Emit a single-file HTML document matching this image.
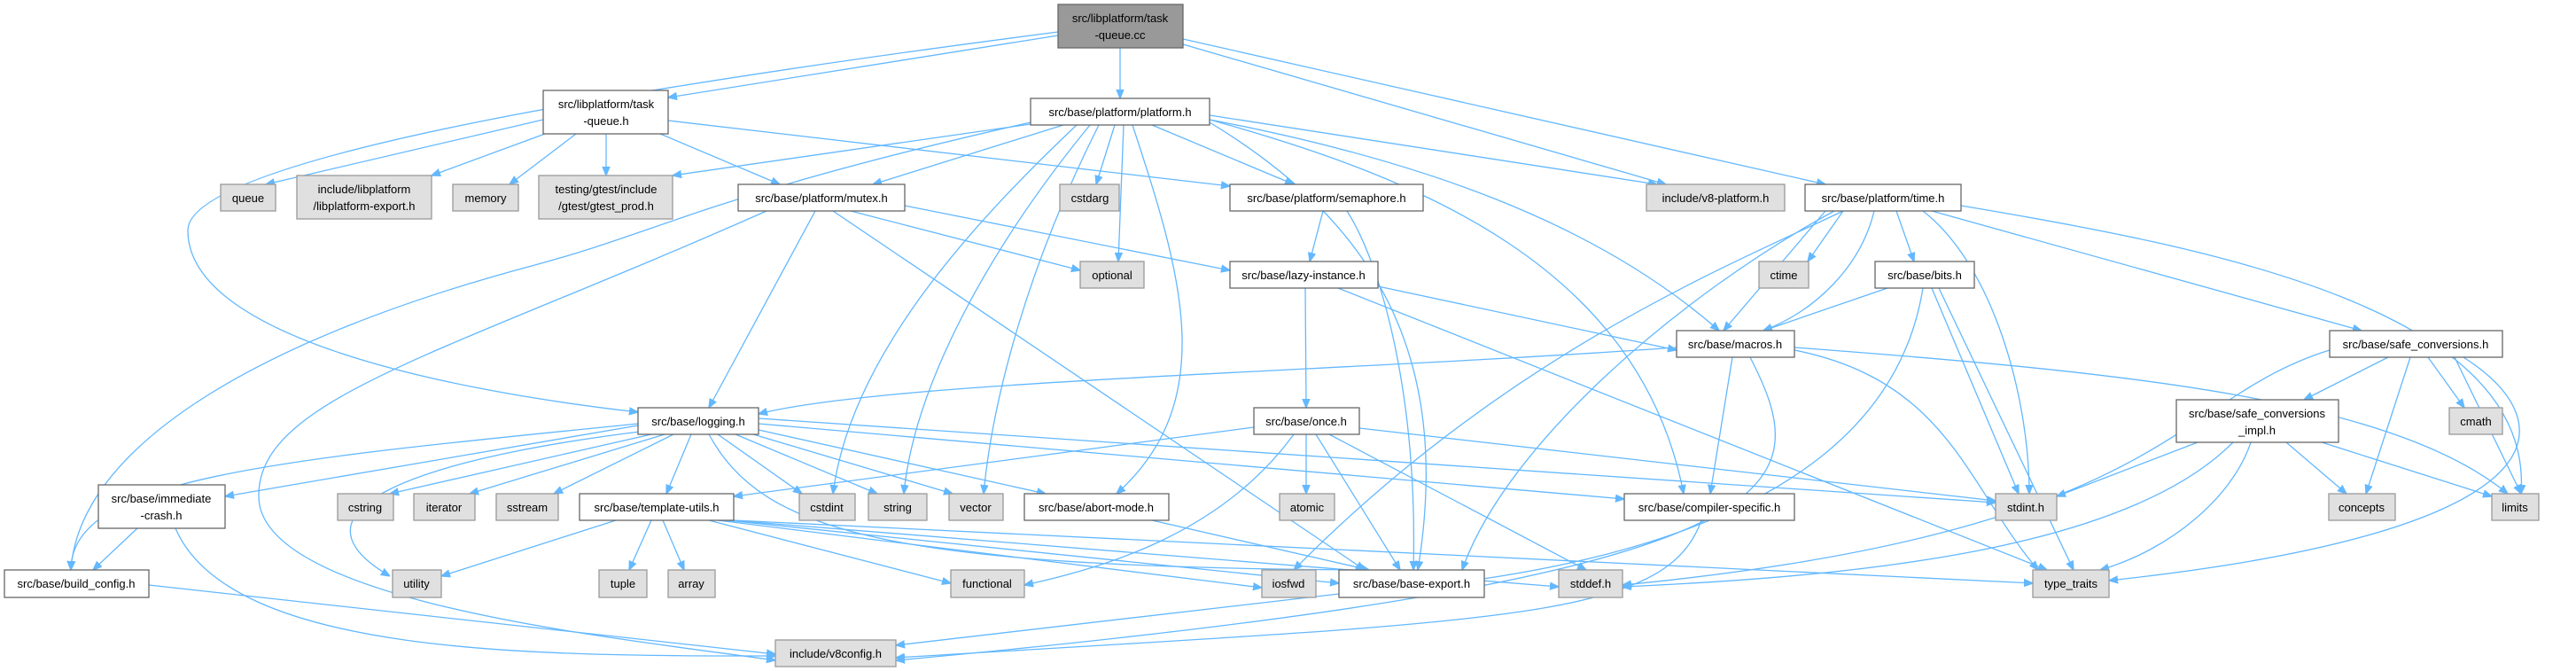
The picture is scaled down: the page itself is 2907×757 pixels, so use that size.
<!DOCTYPE html>
<html><head><meta charset="utf-8"><style>
html,body{margin:0;padding:0;background:#fff}
svg{display:block}
text{font-family:"Liberation Sans",sans-serif;font-size:13px;fill:#000}
.w{fill:#fff;stroke:#666;stroke-width:1.3}
.g{fill:#e0e0e0;stroke:#999;stroke-width:1.3}
.d{fill:#999;stroke:#666;stroke-width:1.3}
path{fill:none;stroke:#63b8ff;stroke-width:1.3}
</style></head><body>
<svg width="2907" height="757" viewBox="0 0 2907 757" xmlns="http://www.w3.org/2000/svg">
<defs><marker id="a" viewBox="0 0 10 10" refX="10" refY="5" markerWidth="10" markerHeight="10" markerUnits="userSpaceOnUse" orient="auto"><path d="M0,1 L10,5 L0,9 z" style="fill:#63b8ff;stroke:#63b8ff"/></marker></defs>
<g marker-end="url(#a)">
<path d="M1194,40 L754,110"/>
<path d="M1264,54 L1264,111"/>
<path d="M1335,50 L1880,208"/>
<path d="M1335,44 L2060,208"/>
<path d="M1194,36 C700,100 212,180 212,260 C212,380 500,440 720,465"/>
<path d="M613,135 L300,208"/>
<path d="M615,151 L487,198"/>
<path d="M650,151 L575,208"/>
<path d="M684,151 L684,198"/>
<path d="M745,151 L880,208"/>
<path d="M754,136 L1388,210"/>
<path d="M1163,140 L759,198"/>
<path d="M1200,141 L985,208"/>
<path d="M1300,141 L1460,208"/>
<path d="M1258,141 L1237,208"/>
<path d="M1268,141 L1262,295"/>
<path d="M1365,130 L1870,208"/>
<path d="M1365,135 C1600,180 1800,250 1940,373"/>
<path d="M1365,135 C1600,200 1850,300 1900,557"/>
<path d="M1365,138 C1550,250 1640,400 1600,643"/>
<path d="M1278,141 C1330,300 1380,450 1260,557"/>
<path d="M1215,141 C1100,250 960,400 940,557"/>
<path d="M1230,141 C1100,300 1030,450 1020,557"/>
<path d="M1240,141 C1160,300 1120,450 1110,557"/>
<path d="M1163,138 C800,220 750,260 600,300 C300,380 90,500 80,643"/>
<path d="M865,238 C500,400 290,450 292,560 C292,680 700,720 875,745"/>
<path d="M920,238 L800,460"/>
<path d="M960,238 L1219,305"/>
<path d="M1021,232 L1388,305"/>
<path d="M940,238 L1540,643"/>
<path d="M1493,238 L1478,295"/>
<path d="M1520,238 C1560,300 1600,450 1595,643"/>
<path d="M1473,325 L1474,460"/>
<path d="M1555,323 L1892,395"/>
<path d="M1510,325 L2310,643"/>
<path d="M2080,238 L2040,295"/>
<path d="M2140,238 L2160,295"/>
<path d="M2115,238 C2100,300 2050,350 1990,373"/>
<path d="M2060,238 L1945,373"/>
<path d="M2170,238 C2250,300 2290,450 2290,557"/>
<path d="M2180,238 L2665,373"/>
<path d="M2213,232 C2500,280 2860,350 2845,557"/>
<path d="M2070,238 C1900,330 1700,500 1650,643"/>
<path d="M2080,238 C1950,300 1700,400 1460,643"/>
<path d="M2130,325 L1990,373"/>
<path d="M2180,325 L2278,557"/>
<path d="M2188,325 L2340,643"/>
<path d="M2170,325 C2150,450 2050,600 1660,655"/>
<path d="M1892,392 C1500,420 1000,430 856,467"/>
<path d="M1955,403 L1930,557"/>
<path d="M1975,403 C2050,550 2050,650 1011,745"/>
<path d="M2025,395 C2200,430 2220,550 2300,643"/>
<path d="M2025,392 C2400,420 2700,450 2830,557"/>
<path d="M2695,403 L2600,451"/>
<path d="M2740,403 L2781,460"/>
<path d="M2720,403 L2670,557"/>
<path d="M2770,403 L2845,557"/>
<path d="M2780,403 C2900,480 2890,600 2380,655"/>
<path d="M2629,395 C2450,450 2450,600 1831,660"/>
<path d="M2480,499 L2321,560"/>
<path d="M2580,499 L2648,557"/>
<path d="M2620,499 L2812,560"/>
<path d="M2540,499 C2520,560 2450,620 2370,643"/>
<path d="M2520,499 C2400,620 2100,650 1831,662"/>
<path d="M720,480 L254,560"/>
<path d="M720,478 C300,520 80,540 80,643"/>
<path d="M735,490 L440,557"/>
<path d="M750,490 L530,557"/>
<path d="M760,490 L625,557"/>
<path d="M780,490 L752,557"/>
<path d="M810,490 L905,557"/>
<path d="M830,490 L990,557"/>
<path d="M850,490 L1075,557"/>
<path d="M856,485 L1180,557"/>
<path d="M856,478 L1833,563"/>
<path d="M730,486 C450,520 320,580 440,650"/>
<path d="M800,490 C860,600 1000,640 1540,643"/>
<path d="M856,472 L2252,567"/>
<path d="M1415,482 L828,560"/>
<path d="M1474,490 L1474,557"/>
<path d="M1460,490 C1380,600 1250,640 1156,660"/>
<path d="M1485,490 L1580,643"/>
<path d="M1500,490 L1790,643"/>
<path d="M1534,483 L2252,565"/>
<path d="M695,587 L498,650"/>
<path d="M735,587 L710,643"/>
<path d="M748,587 L772,643"/>
<path d="M800,587 L1073,658"/>
<path d="M810,587 L1424,663"/>
<path d="M820,587 L1511,658"/>
<path d="M825,587 L1759,662"/>
<path d="M828,587 L2294,658"/>
<path d="M155,596 L105,643"/>
<path d="M198,596 C260,740 600,740 875,740"/>
<path d="M168,660 L875,738"/>
<path d="M1300,587 L1545,643"/>
<path d="M1511,670 L1011,728"/>
<path d="M1920,587 C1880,700 1700,700 1011,742"/>
</g>
<g text-anchor="middle">
<rect class="d" x="1194" y="5" width="141" height="49"/><text x="1264" y="25">src/libplatform/task</text><text x="1264" y="44">-queue.cc</text>
<rect class="w" x="613" y="102" width="141" height="49"/><text x="684" y="122">src/libplatform/task</text><text x="684" y="141">-queue.h</text>
<rect class="w" x="1163" y="111" width="202" height="30"/><text x="1264" y="131">src/base/platform/platform.h</text>
<rect class="g" x="249" y="208" width="62" height="30"/><text x="280" y="228">queue</text>
<rect class="g" x="335" y="198" width="152" height="49"/><text x="411" y="218">include/libplatform</text><text x="411" y="237">/libplatform-export.h</text>
<rect class="g" x="511" y="208" width="74" height="30"/><text x="548" y="228">memory</text>
<rect class="g" x="608" y="198" width="151" height="49"/><text x="684" y="218">testing/gtest/include</text><text x="684" y="237">/gtest/gtest_prod.h</text>
<rect class="w" x="833" y="208" width="188" height="30"/><text x="927" y="228">src/base/platform/mutex.h</text>
<rect class="g" x="1196" y="208" width="67" height="30"/><text x="1230" y="228">cstdarg</text>
<rect class="w" x="1388" y="208" width="218" height="30"/><text x="1497" y="228">src/base/platform/semaphore.h</text>
<rect class="g" x="1858" y="208" width="156" height="30"/><text x="1936" y="228">include/v8-platform.h</text>
<rect class="w" x="2037" y="208" width="176" height="30"/><text x="2125" y="228">src/base/platform/time.h</text>
<rect class="g" x="1219" y="295" width="72" height="30"/><text x="1255" y="315">optional</text>
<rect class="w" x="1388" y="295" width="167" height="30"/><text x="1471" y="315">src/base/lazy-instance.h</text>
<rect class="g" x="1985" y="295" width="56" height="30"/><text x="2013" y="315">ctime</text>
<rect class="w" x="2116" y="295" width="112" height="30"/><text x="2172" y="315">src/base/bits.h</text>
<rect class="w" x="1892" y="373" width="133" height="30"/><text x="1958" y="393">src/base/macros.h</text>
<rect class="w" x="2629" y="373" width="195" height="30"/><text x="2726" y="393">src/base/safe_conversions.h</text>
<rect class="w" x="720" y="460" width="136" height="30"/><text x="788" y="480">src/base/logging.h</text>
<rect class="w" x="1415" y="460" width="119" height="30"/><text x="1474" y="480">src/base/once.h</text>
<rect class="w" x="2456" y="451" width="183" height="48"/><text x="2547" y="471">src/base/safe_conversions</text><text x="2547" y="490">_impl.h</text>
<rect class="g" x="2764" y="460" width="60" height="30"/><text x="2794" y="480">cmath</text>
<rect class="w" x="111" y="547" width="143" height="49"/><text x="182" y="567">src/base/immediate</text><text x="182" y="586">-crash.h</text>
<rect class="g" x="381" y="557" width="63" height="30"/><text x="412" y="577">cstring</text>
<rect class="g" x="467" y="557" width="69" height="30"/><text x="501" y="577">iterator</text>
<rect class="g" x="560" y="557" width="70" height="30"/><text x="595" y="577">sstream</text>
<rect class="w" x="654" y="557" width="174" height="30"/><text x="741" y="577">src/base/template-utils.h</text>
<rect class="g" x="902" y="557" width="63" height="30"/><text x="933" y="577">cstdint</text>
<rect class="g" x="980" y="557" width="66" height="30"/><text x="1013" y="577">string</text>
<rect class="g" x="1071" y="557" width="61" height="30"/><text x="1101" y="577">vector</text>
<rect class="w" x="1156" y="557" width="163" height="30"/><text x="1237" y="577">src/base/abort-mode.h</text>
<rect class="g" x="1444" y="557" width="62" height="30"/><text x="1475" y="577">atomic</text>
<rect class="w" x="1833" y="557" width="192" height="30"/><text x="1929" y="577">src/base/compiler-specific.h</text>
<rect class="g" x="2252" y="557" width="69" height="30"/><text x="2286" y="577">stdint.h</text>
<rect class="g" x="2628" y="557" width="75" height="30"/><text x="2665" y="577">concepts</text>
<rect class="g" x="2812" y="557" width="53" height="30"/><text x="2838" y="577">limits</text>
<rect class="w" x="5" y="643" width="163" height="31"/><text x="86" y="663">src/base/build_config.h</text>
<rect class="g" x="443" y="643" width="55" height="31"/><text x="470" y="663">utility</text>
<rect class="g" x="676" y="643" width="54" height="31"/><text x="703" y="663">tuple</text>
<rect class="g" x="754" y="643" width="53" height="31"/><text x="780" y="663">array</text>
<rect class="g" x="1073" y="643" width="83" height="31"/><text x="1114" y="663">functional</text>
<rect class="g" x="1424" y="643" width="61" height="31"/><text x="1454" y="663">iosfwd</text>
<rect class="w" x="1511" y="643" width="164" height="31"/><text x="1593" y="663">src/base/base-export.h</text>
<rect class="g" x="1759" y="643" width="72" height="31"/><text x="1795" y="663">stddef.h</text>
<rect class="g" x="2294" y="643" width="86" height="31"/><text x="2337" y="663">type_traits</text>
<rect class="g" x="875" y="722" width="136" height="30"/><text x="943" y="742">include/v8config.h</text>
</g>
</svg>
</body></html>
